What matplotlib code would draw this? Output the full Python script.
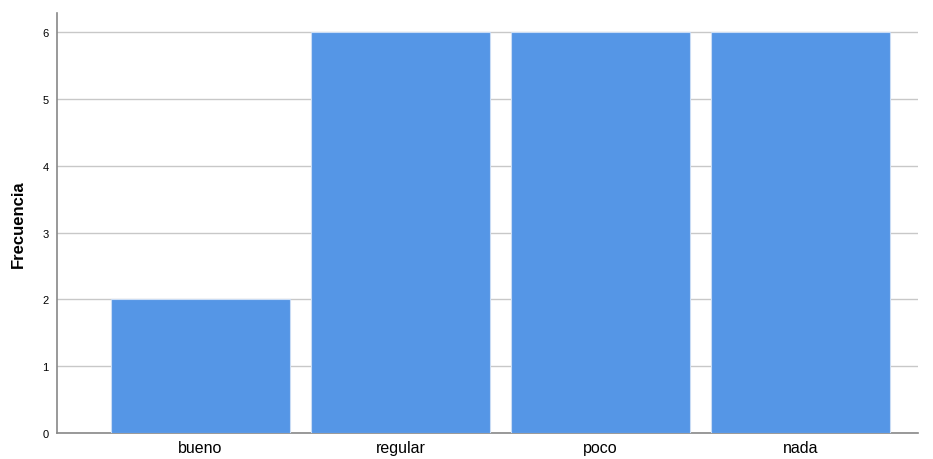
import matplotlib
matplotlib.use("Agg")
import matplotlib.pyplot as plt

categorias = ["bueno", "regular", "poco", "nada"]
frecuencias = [2, 6, 6, 6]

fig = plt.figure(figsize=(9.33, 4.60), dpi=100)
ax = fig.add_axes([0.0611, 0.0565, 0.9228, 0.912])

x = list(range(len(categorias)))
ax.bar(x, frecuencias, width=0.895, color="#5596e6", edgecolor="#c9dcf5", linewidth=0.8, zorder=3)

ax.set_xlim(-0.7175, 3.5875)
ax.set_ylim(0, 6.28)
ax.set_yticks(range(0, 7))
ax.set_xticks(x)
ax.set_xticklabels(categorias, fontsize=11.5, fontfamily="Liberation Sans")
ax.tick_params(axis="y", length=0, pad=6, labelsize=8)
ax.tick_params(axis="x", length=0, pad=5)
for lbl in ax.get_yticklabels():
    lbl.set_fontfamily("Liberation Sans")

ax.yaxis.grid(True, color="#c8c8c8", linewidth=1, zorder=0)
ax.set_axisbelow(True)
for s in ["top", "right"]:
    ax.spines[s].set_visible(False)
for s in ["left", "bottom"]:
    ax.spines[s].set_color("#888888")
    ax.spines[s].set_linewidth(1.2)

ax.set_ylabel("Frecuencia", fontsize=12, fontweight="bold", fontfamily="Liberation Sans", labelpad=12)

fig.savefig("out.png", dpi=100)
